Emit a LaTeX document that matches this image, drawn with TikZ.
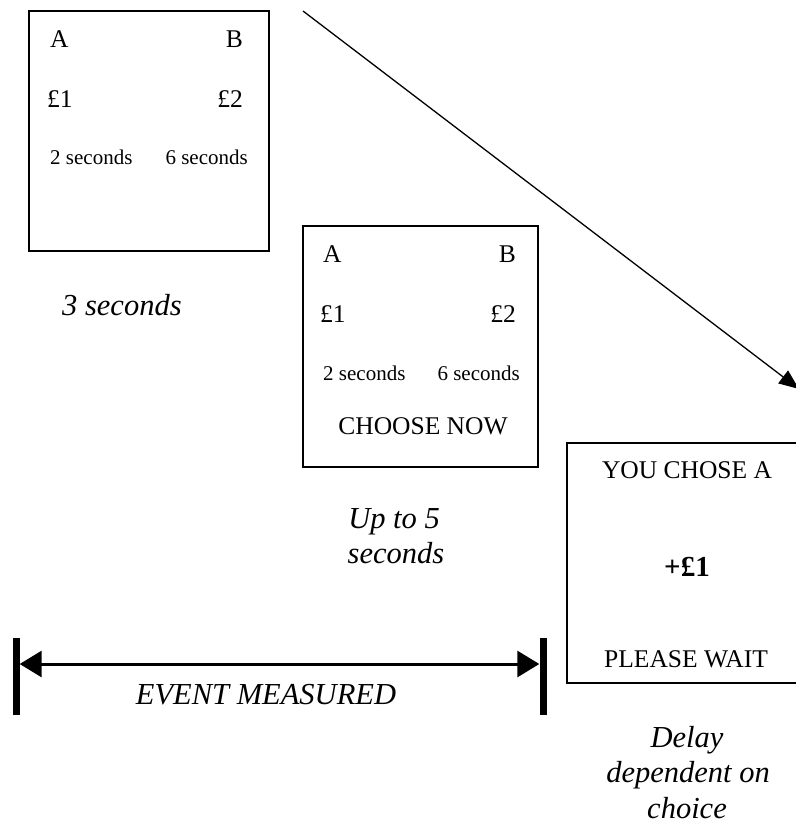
\documentclass[tikz,border=0pt]{standalone}
\usepackage{fontspec}
\setmainfont{Liberation Serif}
\usetikzlibrary{arrows.meta}
\tikzset{
  screen/.style={draw, line width=1.4pt, inner sep=0pt},
  big/.style={inner sep=0pt, font=\fontsize{25.5}{30}\selectfont},
  small/.style={inner sep=0pt, font=\fontsize{21}{25}\selectfont},
  lab/.style={inner sep=0pt, font=\fontsize{30.5}{35}\selectfont\itshape},
  bar/.style={fill=black, inner sep=0pt, minimum width=7pt, minimum height=77pt},
}
\begin{document}
\begin{tikzpicture}[x=1pt,y=-1pt]
\useasboundingbox (0,0) rectangle (796,823);
\clip (0,0) rectangle (796,823);
% screen 1
\node[screen, minimum width=240pt, minimum height=240pt] (s1) at (149,131) {};
\node[big, anchor=base west] (s1a) at (50,47) {A};
\node[big, anchor=base east] (s1b) at (243,47) {B};
\node[big, anchor=base west] (s1p1) at (47,107) {£1};
\node[big, anchor=base east] (s1p2) at (243,107) {£2};
\node[small, anchor=base west] (s1t1) at (50,164) {2 seconds};
\node[small, anchor=base east] (s1t2) at (248,164) {6 seconds};
\node[lab, anchor=base west] (l1) at (62,315) {3 seconds};
% screen 2
\node[screen, minimum width=235pt, minimum height=241pt] (s2) at (420.5,346.5) {};
\node[big, anchor=base west] (s2a) at (323,262) {A};
\node[big, anchor=base east] (s2b) at (516,262) {B};
\node[big, anchor=base west] (s2p1) at (320,322) {£1};
\node[big, anchor=base east] (s2p2) at (516,322) {£2};
\node[small, anchor=base west] (s2t1) at (323,380) {2 seconds};
\node[small, anchor=base east] (s2t2) at (520,380) {6 seconds};
\node[big, anchor=base] (s2c) at (423,434) {CHOOSE NOW};
\node[lab, anchor=base] (l2a) at (394,528) {Up to 5};
\node[lab, anchor=base] (l2b) at (396,563) {seconds};
% screen 3
\node[screen, minimum width=240pt, minimum height=240pt] (s3) at (687,563) {};
\node[big, anchor=base] (s3a) at (687,478) {YOU CHOSE A};
\node[big, anchor=base, font=\fontsize{29}{34}\selectfont\bfseries] (s3b) at (687,576) {+£1};
\node[big, anchor=base] (s3c) at (686,667) {PLEASE WAIT};
\node[lab, anchor=base] (l3a) at (687,747) {Delay};
\node[lab, anchor=base] (l3b) at (688,782) {dependent on};
\node[lab, anchor=base] (l3c) at (687,818) {choice};
% diagonal arrow
\coordinate (arrS) at (303,11);
\coordinate (arrE) at (799,389);
\draw[line width=1.3pt, -{Triangle[length=20pt,width=16pt]}] (arrS) -- (arrE);
% event measured
\node[bar] (lbar) at (16,676) {};
\node[bar] (rbar) at (543,676) {};
\draw[line width=3pt, {Triangle[length=22pt,width=26pt]}-{Triangle[length=22pt,width=26pt]}] (lbar.east |- 0,664) -- (rbar.west |- 0,664);
\node[lab, anchor=base] (ev) at (266,704) {EVENT MEASURED};
\end{tikzpicture}
\end{document}
